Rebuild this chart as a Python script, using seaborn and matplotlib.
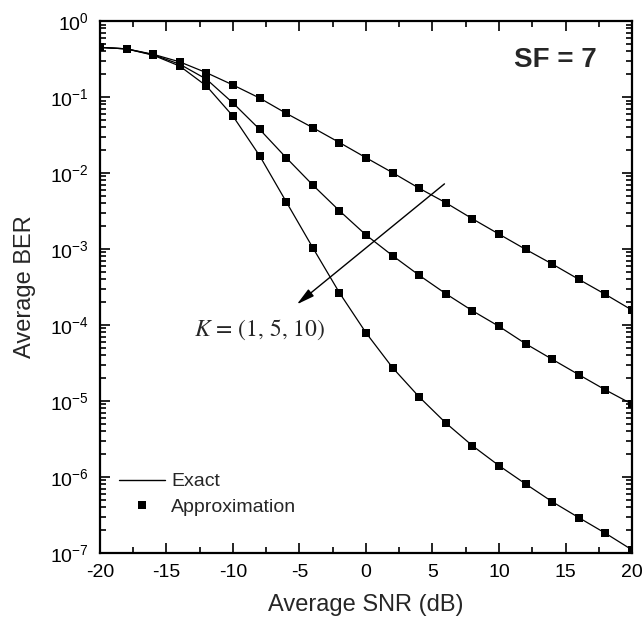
import matplotlib
matplotlib.use('Agg')
import matplotlib.pyplot as plt
from matplotlib.lines import Line2D
from matplotlib.ticker import LogLocator, MultipleLocator, NullFormatter
import seaborn as sns
import pandas as pd

# 数据：平均SNR (dB) 与三种 K 下的平均BER
snr_db = [-20, -18, -16, -14, -12, -10, -8, -6, -4, -2, 0,
          2, 4, 6, 8, 10, 12, 14, 16, 18, 20]
ber_k1 = [0.45, 0.43, 0.365, 0.29, 0.209, 0.144, 0.097, 0.061, 0.0395, 0.0252, 0.0159,
          0.0101, 0.0063, 0.00406, 0.0025, 0.00157, 0.00099, 0.000635, 0.000399, 0.000253, 0.000157]
ber_k5 = [0.45, 0.43, 0.36, 0.27, 0.172, 0.0834, 0.0376, 0.0159, 0.00695, 0.00319, 0.00153,
          0.000817, 0.000451, 0.000258, 0.000154, 9.6e-5, 5.67e-5, 3.54e-5, 2.22e-5, 1.40e-5, 9.1e-6]
ber_k10 = [0.45, 0.43, 0.355, 0.255, 0.140, 0.056, 0.0169, 0.00419, 0.00104, 0.000266, 7.9e-5,
           2.74e-5, 1.13e-5, 5.14e-6, 2.58e-6, 1.41e-6, 8.1e-7, 4.73e-7, 2.92e-7, 1.82e-7, 1.1e-7]
k_values = [1, 5, 10]

sns.set_style("ticks")
plt.rcParams['font.family'] = ['Liberation Sans', 'DejaVu Sans']
plt.rcParams['axes.unicode_minus'] = False
plt.rcParams['mathtext.fontset'] = 'custom'
plt.rcParams['mathtext.rm'] = 'Liberation Sans'
plt.rcParams['mathtext.it'] = 'Liberation Sans:italic'
plt.rcParams['mathtext.bf'] = 'Liberation Sans:bold'

df = pd.DataFrame({
    'snr': snr_db * 3,
    'ber': ber_k1 + ber_k5 + ber_k10,
    'K': [k for k in k_values for _ in snr_db],
})

fig = plt.figure(figsize=(6.43, 6.24), dpi=100)
ax = fig.add_axes([0.1555, 0.1138, 0.8274, 0.8525])

for k in k_values:
    sub = df[df['K'] == k]
    sns.lineplot(data=sub, x='snr', y='ber', ax=ax, color='black', linewidth=0.9,
                 marker='s', markersize=6, markeredgewidth=0, markerfacecolor='black',
                 estimator=None, sort=False)

ax.set_yscale('log')
ax.set_xlim(-20, 20)
ax.set_ylim(1e-7, 1e0)
ax.xaxis.set_major_locator(MultipleLocator(5))
ax.xaxis.set_minor_locator(MultipleLocator(2.5))
ax.yaxis.set_major_locator(LogLocator(base=10, numticks=10))
ax.yaxis.set_minor_locator(LogLocator(base=10, subs=range(2, 10), numticks=100))
ax.yaxis.set_minor_formatter(NullFormatter())

for side in ['top', 'right', 'bottom', 'left']:
    ax.spines[side].set_visible(True)
    ax.spines[side].set_linewidth(1.6)
    ax.spines[side].set_color('black')
ax.tick_params(which='both', direction='in', top=True, right=True, width=1.2, colors='black')
ax.tick_params(which='major', length=7, labelsize=14)
ax.tick_params(axis='x', which='major', pad=8)
ax.tick_params(axis='y', which='major', pad=8)
ax.tick_params(which='minor', length=4)

ax.set_xlabel('Average SNR (dB)', fontsize=17, labelpad=9)
ax.set_ylabel('Average BER', fontsize=17, labelpad=10)

ax.text(0.934, 0.926, 'SF = 7', transform=ax.transAxes, ha='right', va='center',
        fontsize=20, fontweight='bold')

# 箭头和 K 标注
ax.annotate('', xy=(-5.2, 1.87e-4), xytext=(5.9, 7.2e-3),
            arrowprops=dict(arrowstyle='-|>,head_length=0.9,head_width=0.22',
                            color='black', lw=1.0, mutation_scale=12,
                            shrinkA=0, shrinkB=0))
ax.text(-12.9, 8.6e-5, '$K$ = (1, 5, 10)', ha='left', va='center', fontsize=17,
        fontfamily='STIXGeneral', math_fontfamily='stix')

handles = [
    Line2D([], [], color='black', linewidth=1.0),
    Line2D([], [], color='black', linestyle='none', marker='s', markersize=6, markeredgewidth=0),
]
ax.legend(handles, ['Exact', 'Approximation'], loc='lower left',
          bbox_to_anchor=(0.035, 0.07), frameon=False, fontsize=14,
          handlelength=2.4, handletextpad=0.3, labelspacing=0.4, borderpad=0, borderaxespad=0)

fig.savefig('out.png', dpi=100)
